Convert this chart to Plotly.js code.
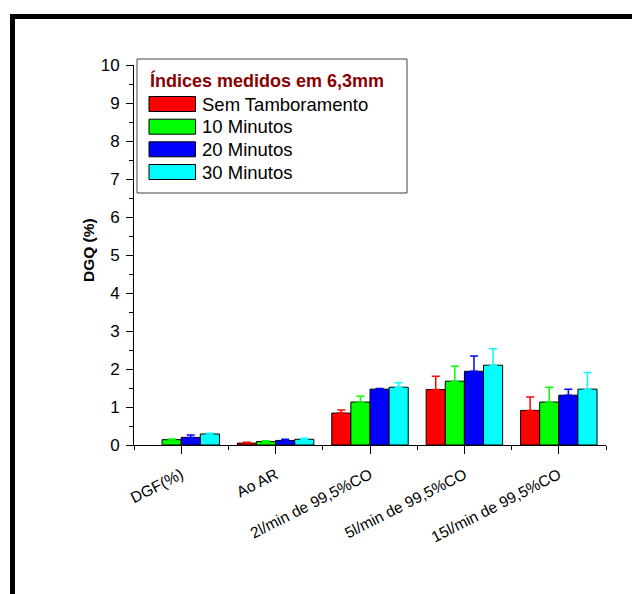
<!DOCTYPE html>
<html>
<head>
<meta charset="utf-8">
<script src="https://cdn.plot.ly/plotly-3.0.1.min.js"></script>
<style>
  html, body { margin: 0; padding: 0; background: #ffffff; }
  #chart { width: 632px; height: 594px; }
</style>
</head>
<body>
<div id="chart"></div>
<script>
// ---- data ----
const categories = ['DGF(%)', 'Ao AR', '2l/min de 99,5%CO', '5l/min de 99,5%CO', '15l/min de 99,5%CO'];
const seriesNames = ['Sem Tamboramento', '10 Minutos', '20 Minutos', '30 Minutos'];
const semTamb    = [null, 0.05, 0.84, 1.46, 0.91];
const semTambErr = [0.00, 0.02, 0.08, 0.35, 0.35];
const min10      = [0.14, 0.09, 1.13, 1.68, 1.13];
const min10Err   = [0.02, 0.02, 0.15, 0.39, 0.39];
const min20      = [0.20, 0.12, 1.47, 1.94, 1.31];
const min20Err   = [0.06, 0.03, 0.02, 0.40, 0.16];
const min30      = [0.29, 0.15, 1.52, 2.10, 1.47];
const min30Err   = [0.02, 0.03, 0.12, 0.43, 0.44];
const yTickVals  = [0, 1, 2, 3, 4, 5, 6, 7, 8, 9, 10];
const legendTitle = 'Índices medidos em 6,3mm';
const yTitle = 'DGQ (%)';

// ---- styling ----
const colors = ['#ff0000', '#00ff00', '#0000ff', '#00ffff'];
const FONT = 'Arial, "Liberation Sans", sans-serif';
const W = 632, H = 594;
const mL = 134, mR = 26, mT = 65, mB = 149;
const plotW = W - mL - mR, plotH = H - mT - mB;
const px = x => (x - mL) / plotW;
const py = y => (H - mB - y) / plotH;

const values = [semTamb, min10, min20, min30];
const errs = [semTambErr, min10Err, min20Err, min30Err];
const xIdx = categories.map((c, i) => i);

const traces = values.map((v, k) => ({
  type: 'bar',
  name: seriesNames[k],
  x: xIdx,
  y: v,
  marker: { color: colors[k], line: { color: '#000000', width: 1 } },
  error_y: {
    type: 'data', symmetric: false,
    array: errs[k], arrayminus: errs[k].map(() => 0),
    color: colors[k], thickness: 1.5, width: 4
  },
  showlegend: false,
  hoverinfo: 'x+y'
}));

const shapes = [];
const annotations = [];

// outer thick frame (top and left edges)
shapes.push({ type: 'rect', xref: 'paper', yref: 'paper', x0: px(10), x1: px(15), y0: py(14), y1: py(600),
  fillcolor: '#000', line: { width: 0 }, layer: 'above' });
shapes.push({ type: 'rect', xref: 'paper', yref: 'paper', x0: px(10), x1: px(640), y0: py(14), y1: py(19),
  fillcolor: '#000', line: { width: 0 }, layer: 'above' });

// custom legend box
shapes.push({ type: 'rect', xref: 'paper', yref: 'paper', x0: px(137), x1: px(407), y0: py(59), y1: py(193),
  fillcolor: '#ffffff', line: { color: '#444444', width: 1 }, layer: 'above' });
annotations.push({ xref: 'paper', yref: 'paper', x: px(148), y: py(80), xanchor: 'left', yanchor: 'middle',
  text: '<b>' + legendTitle + '</b>', showarrow: false,
  font: { family: FONT, size: 18, color: '#8b0000' } });
const rowY = [104, 126.7, 149.3, 172];
seriesNames.forEach((nm, k) => {
  shapes.push({ type: 'rect', xref: 'paper', yref: 'paper', x0: px(149), x1: px(195.5), y0: py(rowY[k] - 7.5), y1: py(rowY[k] + 7.5),
    fillcolor: colors[k], line: { color: '#000000', width: 1 }, layer: 'above' });
  annotations.push({ xref: 'paper', yref: 'paper', x: px(200), y: py(rowY[k]), xanchor: 'left', yanchor: 'middle',
    text: nm, showarrow: false, font: { family: FONT, size: 18.5, color: '#000000' } });
});

// y-axis title
annotations.push({ xref: 'paper', yref: 'paper', x: px(89), y: py(250), xanchor: 'center', yanchor: 'middle',
  text: '<b>' + yTitle + '</b>', textangle: -90, showarrow: false,
  font: { family: FONT, size: 15.5, color: '#000000' } });

const layout = {
  width: W, height: H,
  margin: { l: mL, r: mR, t: mT, b: mB, pad: 0 },
  paper_bgcolor: '#ffffff', plot_bgcolor: '#ffffff',
  font: { family: FONT, color: '#000000' },
  barmode: 'group', bargap: 0.19, bargroupgap: 0,
  showlegend: false,
  xaxis: {
    range: [-0.5, 4.5], tickmode: 'array', tickvals: xIdx, ticktext: categories,
    tickangle: -27, ticks: 'outside', ticklen: 8, tickwidth: 1, tickcolor: '#000',
    ticklabelstandoff: 6,
    minor: { ticks: 'outside', ticklen: 4, tick0: 0.5, dtick: 1, tickcolor: '#000', showgrid: false },
    showline: true, linecolor: '#000', linewidth: 1, showgrid: false, zeroline: false,
    tickfont: { family: FONT, size: 15.5, color: '#000' }, fixedrange: true
  },
  yaxis: {
    range: [0, 10], tickmode: 'array', tickvals: yTickVals,
    ticks: 'outside', ticklen: 7, tickwidth: 1, tickcolor: '#000',
    ticklabelstandoff: 3,
    minor: { ticks: 'outside', ticklen: 4, dtick: 0.5, tick0: 0, tickcolor: '#000', showgrid: false },
    showline: true, linecolor: '#000', linewidth: 1, showgrid: false, zeroline: false,
    tickfont: { family: FONT, size: 17, color: '#000' },
    fixedrange: true
  },
  shapes: shapes,
  annotations: annotations
};

Plotly.newPlot('chart', traces, layout, { displayModeBar: false, staticPlot: true });
</script>
</body>
</html>
